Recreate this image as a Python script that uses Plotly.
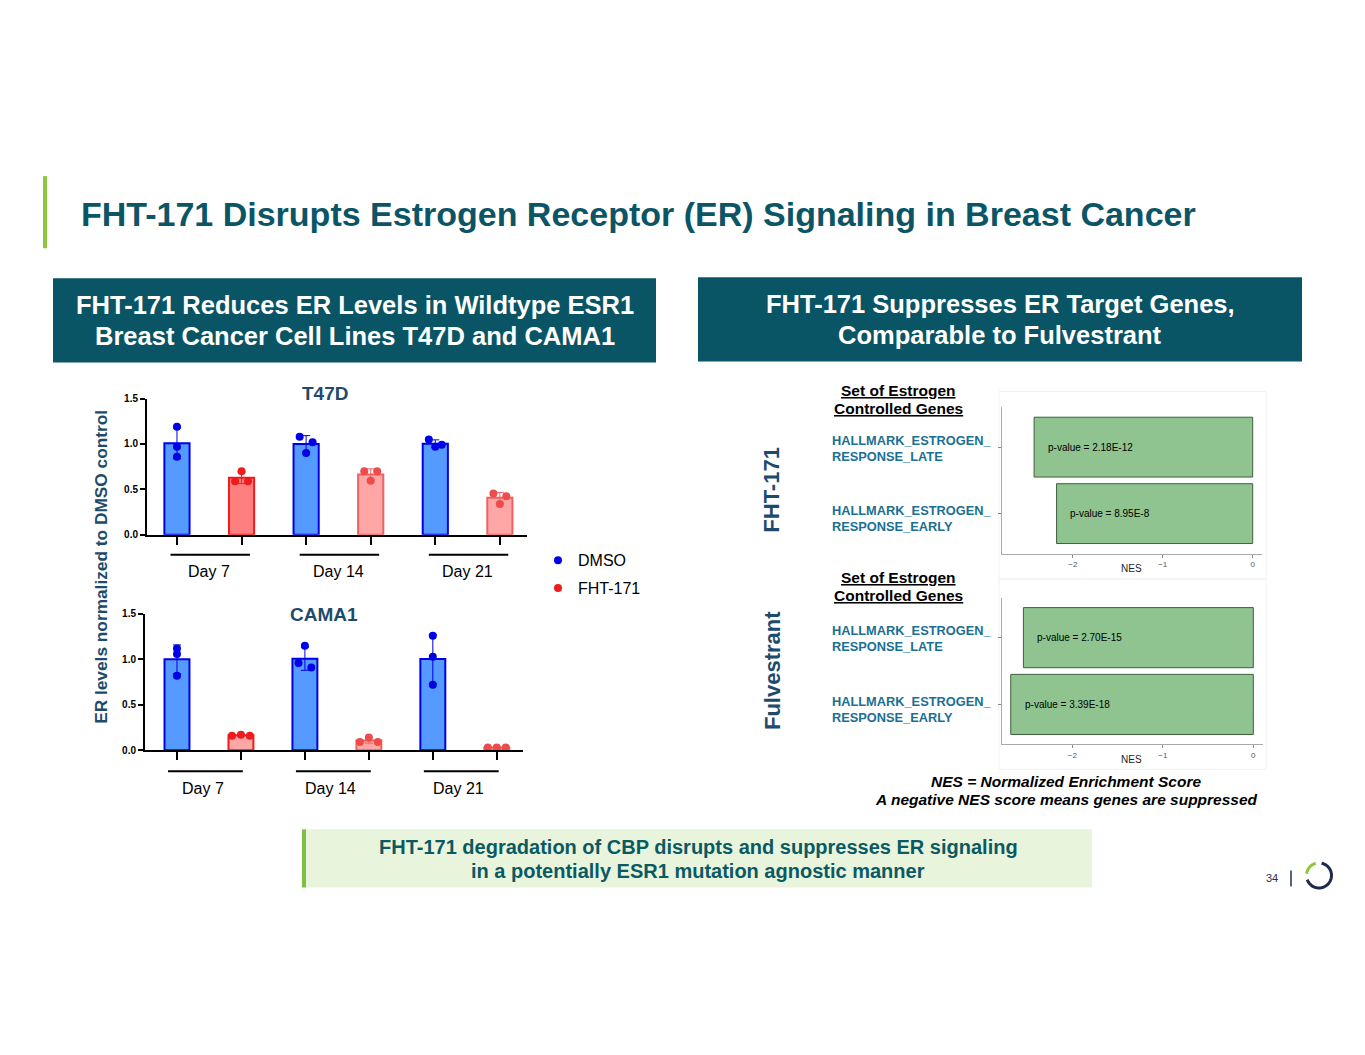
import numpy as np
import plotly.graph_objects as go

W, H = 1365, 1055
FONT = "Liberation Sans, Arial, sans-serif"

# ---------------- data ----------------
DAYS = ["Day 7", "Day 14", "Day 21"]
T47D_DMSO = [[1.19, 0.97, 0.86], [1.08, 1.02, 0.90], [1.05, 0.99, 0.97]]
T47D_FHT = [[0.70, 0.59, 0.59], [0.70, 0.70, 0.595], [0.455, 0.425, 0.34]]
CAMA1_DMSO = [[1.12, 1.06, 0.82], [1.15, 0.96, 0.91], [1.26, 1.03, 0.72]]
CAMA1_FHT = [[0.16, 0.17, 0.16], [0.14, 0.09, 0.09], [0.03, 0.03, 0.03]]

GENE_SETS = ["HALLMARK_ESTROGEN_RESPONSE_EARLY", "HALLMARK_ESTROGEN_RESPONSE_LATE"]
NES_FHT = [-2.18, -2.43]
NES_FULV = [-2.68, -2.54]
PVAL_FHT = ["p-value = 8.95E-8", "p-value = 2.18E-12"]
PVAL_FULV = ["p-value = 3.39E-18", "p-value = 2.70E-15"]

# ---------------- styles ----------------
BLUE_FILL, BLUE_LINE = "#559aff", "#0000e6"
RED_FILL_D, RED_LINE_D, RED_PT_D = "#ff7f7f", "#ee1c1c", "#ee1c1c"
RED_FILL_L, RED_LINE_L, RED_PT_L = "#ffa6a6", "#f06262", "#ee4b4b"
TEAL = "#0b5566"
NAVY_T = "#1d4b6c"

JIT_T_D = [[0, 0, 0], [-0.1, 0.1, 0], [-0.1, 0.1, 0]]
JIT_T_F = [[0, -0.1, 0.1], [-0.1, 0.1, 0], [-0.1, 0.1, 0]]
JIT_C_D = [[0, 0, 0], [0, -0.1, 0.1], [0, 0, 0]]
JIT_C_F = [[-0.14, 0, 0.14], [0, -0.14, 0.14], [-0.14, 0, 0.14]]


def px(x):
    return (x - 8) / W


def py(y):
    yr = (y - 14.2) / 0.9877
    return 1 - yr / H


fig = go.Figure()

panels = [
    ("x", "y", T47D_DMSO, T47D_FHT, JIT_T_D, JIT_T_F,
     [RED_FILL_D, RED_FILL_L, RED_FILL_L], [RED_LINE_D, RED_LINE_L, RED_LINE_L],
     [RED_PT_D, RED_PT_L, RED_PT_L], True),
    ("x2", "y2", CAMA1_DMSO, CAMA1_FHT, JIT_C_D, JIT_C_F,
     [RED_FILL_L, RED_FILL_L, RED_FILL_L], [RED_LINE_D, RED_LINE_L, RED_LINE_L],
     [RED_PT_D, RED_PT_L, RED_PT_L], False),
]

for xa, ya, dm, fh, jd, jf, rfill, rline, rpt, leg in panels:
    for i in range(3):
        for grp, pts, jit, fill, line, ptc, name in [
            ("d", dm[i], jd[i], BLUE_FILL, BLUE_LINE, BLUE_LINE, "DMSO"),
            ("f", fh[i], jf[i], rfill[i], rline[i], rpt[i], "FHT-171"),
        ]:
            pos = 2 * i + (0 if grp == "d" else 1)
            arr = np.array(pts)
            mean = float(arr.mean())
            sd = float(arr.std(ddof=1))
            fig.add_trace(go.Bar(
                x=[pos], y=[mean], width=0.39, xaxis=xa, yaxis=ya,
                marker=dict(color=fill, line=dict(color=line, width=2)),
                error_y=dict(type="data", array=[sd], visible=True,
                             color=line, thickness=1, width=4),
                showlegend=False, hoverinfo="skip"))
            fig.add_trace(go.Scatter(
                x=[pos + j for j in jit], y=pts, mode="markers", xaxis=xa, yaxis=ya,
                marker=dict(color=ptc, size=8),
                name=name, showlegend=(leg and i == 0), legendgroup=name))

# NES bars
for xa, ya, vals in [("x3", "y3", NES_FHT), ("x4", "y4", NES_FULV)]:
    fig.add_trace(go.Bar(
        x=vals, y=GENE_SETS, orientation="h", width=0.9, xaxis=xa, yaxis=ya,
        marker=dict(color="#8fc38f", line=dict(color="#3f5f3f", width=1)),
        showlegend=False, hoverinfo="skip"))

# ---------------- axes ----------------
bar_x = dict(tickvals=[0, 1, 2, 3, 4, 5], ticktext=[""] * 6, ticks="outside",
             ticklen=8, tickwidth=2, tickcolor="black", showline=True,
             linewidth=2, linecolor="black", showgrid=False, zeroline=False)
bar_y = dict(range=[0, 1.5], tickvals=[0, 0.5, 1.0, 1.5], tickformat=".1f",
             ticks="outside", ticklen=5, tickwidth=2, tickcolor="black",
             showline=True, linewidth=2, linecolor="black", showgrid=False,
             zeroline=False, tickfont=dict(family=FONT, size=10, color="black", weight="bold"))
nes_x = dict(tickvals=[-2, -1, 0], ticktext=["\u22122", "\u22121", "0"], ticks="outside",
             ticklen=3, tickcolor="#888", showline=True, linewidth=1, linecolor="#aaa",
             showgrid=False, zeroline=False, tickfont=dict(family=FONT, size=8, color="#555"))
nes_y = dict(categoryorder="array", categoryarray=GENE_SETS, range=[-0.6, 1.6],
             showticklabels=False, ticks="outside", ticklen=3, tickcolor="#888",
             showline=True, linewidth=1, linecolor="#aaa", showgrid=False, zeroline=False)

fig.update_layout(
    xaxis=dict(bar_x, domain=[px(147), px(527)], range=[-0.464, 5.42], anchor="y"),
    yaxis=dict(bar_y, domain=[py(534), py(398)], anchor="x"),
    xaxis2=dict(bar_x, domain=[px(145), px(523)], range=[-0.5, 5.41], anchor="y2"),
    yaxis2=dict(bar_y, domain=[py(749), py(613)], anchor="x2"),
    xaxis3=dict(nes_x, domain=[px(1001.7), px(1261.7)], range=[-2.79, 0.1], anchor="y3"),
    yaxis3=dict(nes_y, domain=[py(552.7), py(406.7)], anchor="x3"),
    xaxis4=dict(nes_x, domain=[px(1001.7), px(1263)], range=[-2.78, 0.107], anchor="y4"),
    yaxis4=dict(nes_y, domain=[py(743.3), py(596.7)], anchor="x4"),
)

# ---------------- shapes & annotations ----------------
shapes = []
ann = []


def rect(x0, y0, x1, y1, color, line=None):
    shapes.append(dict(type="rect", xref="paper", yref="paper",
                       x0=px(x0), x1=px(x1), y0=py(y1), y1=py(y0),
                       fillcolor=color, line=dict(width=0) if line is None else line,
                       layer="below"))


def text(x, y, t, size, color="black", bold=False, italic=False, xanchor="center",
         align="center", angle=0):
    ann.append(dict(x=px(x), y=py(y), xref="paper", yref="paper", text=t,
                    showarrow=False, xanchor=xanchor, yanchor="middle", align=align,
                    textangle=angle,
                    font=dict(family=FONT, size=size, color=color,
                              weight="bold" if bold else "normal",
                              style="italic" if italic else "normal")))


def lines(x, ys, ts, size, color="black", bold=False, italic=False, xanchor="center"):
    for y, t in zip(ys, ts):
        text(x, y, t, size, color, bold, italic, xanchor, align=xanchor if xanchor != "center" else "center")


# title
rect(43, 176, 47, 248, "#8dc63f")
text(79, 214, "FHT-171 Disrupts Estrogen Receptor (ER) Signaling in Breast Cancer",
     34, TEAL, bold=True, xanchor="left")

# header boxes
rect(53, 278, 656, 362, "#0a5565")
lines(354.5, [305, 336], ["FHT-171 Reduces ER Levels in Wildtype ESR1",
                          "Breast Cancer Cell Lines T47D and CAMA1"], 25.5, "white", bold=True)
rect(698, 277, 1302, 361, "#0a5565")
lines(1000, [304, 335], ["FHT-171 Suppresses ER Target Genes,",
                         "Comparable to Fulvestrant"], 25.5, "white", bold=True)

# bar panel titles
text(325, 393, "T47D", 19, NAVY_T, bold=True)
text(324, 614, "CAMA1", 19, NAVY_T, bold=True)
text(101, 566, "ER levels normalized to DMSO control", 17.3, NAVY_T, bold=True, angle=-90)

# day brackets + labels
for xa, line_ext, lab_off, yline, ylab in [("x", (-0.1, 1.13), 0.0, 554, 571),
                                         ("x2", (-0.14, 1.03), -0.1, 770, 787)]:
    for i, d in enumerate(DAYS):
        shapes.append(dict(type="line", xref=xa, yref="paper",
                           x0=2 * i + line_ext[0], x1=2 * i + line_ext[1],
                           y0=py(yline), y1=py(yline), line=dict(color="black", width=2)))
        ann.append(dict(x=2 * i + 0.5 + lab_off, y=py(ylab), xref=xa, yref="paper", text=d,
                        showarrow=False, xanchor="center", yanchor="middle",
                        font=dict(family=FONT, size=16, color="black")))

# NES panel texts
for yh, yl, ye in [(390, 440, 510), (577, 630, 700)]:
    lines(898, [yh, yh + 18], ["<u>Set of Estrogen</u>", "<u>Controlled Genes</u>"], 15.5,
          "black", bold=True)
    lines(830, [yl, yl + 16], ["HALLMARK_ESTROGEN_", "RESPONSE_LATE"], 12.8, "#1b6f93",
          bold=True, xanchor="left")
    lines(830, [ye, ye + 16], ["HALLMARK_ESTROGEN_", "RESPONSE_EARLY"], 12.8, "#1b6f93",
          bold=True, xanchor="left")

for xa, ya, vals, pv in [("x3", "y3", NES_FHT, PVAL_FHT), ("x4", "y4", NES_FULV, PVAL_FULV)]:
    for v, p, g in zip(vals, pv, GENE_SETS):
        ann.append(dict(x=v + 0.13, y=g, xref=xa, yref=ya, text=p, showarrow=False,
                        xanchor="left", yanchor="middle",
                        font=dict(family=FONT, size=10, color="#000")))

text(1131, 568, "NES", 10, "#222")
text(1131, 758, "NES", 10, "#222")

# faint frames around the NES images
for y0, y1 in [(391, 578), (578, 768)]:
    shapes.append(dict(type="rect", xref="paper", yref="paper", x0=px(999), x1=px(1266),
                       y0=py(y1), y1=py(y0), line=dict(color="#f2f2f2", width=1),
                       layer="below"))

text(772, 489, "FHT-171", 22, NAVY_T, bold=True, angle=-90)
text(772, 670, "Fulvestrant", 22, NAVY_T, bold=True, angle=-90)

lines(1066, [780, 798], ["NES = Normalized Enrichment Score",
                         "A negative NES score means genes are suppressed"], 15.5,
      "black", bold=True, italic=True)

# bottom box
rect(302, 828, 1092, 886, "#e9f4dc")
rect(302, 828, 306, 886, "#7cc142")
lines(698, [846, 870], ["FHT-171 degradation of CBP disrupts and suppresses ER signaling",
                        "in a potentially ESR1 mutation agnostic manner"], 20, "#0b5a63", bold=True)

# page number & logo
text(1272, 877, "34", 11, "#1d3050")
shapes.append(dict(type="line", xref="paper", yref="paper", x0=px(1291), x1=px(1291),
                   y0=py(885), y1=py(869), line=dict(color="#1d3050", width=1.5)))


def arc_path(cx, cy, r, a0, a1, n=40):
    ang = np.radians(np.linspace(a0, a1, n))
    pts = [(px(cx + r * np.cos(a)), py(cy - r * np.sin(a))) for a in ang]
    return "M " + " L ".join(f"{x:.5f},{y:.5f}" for x, y in pts)


shapes.append(dict(type="path", xref="paper", yref="paper",
                   path=arc_path(1319, 874, 12.5, -160, 78), line=dict(color="#1e2b4d", width=3)))
shapes.append(dict(type="path", xref="paper", yref="paper",
                   path=arc_path(1319, 874, 12.5, 105, 172), line=dict(color="#8dc63f", width=3)))

fig.update_layout(
    width=W, height=H, margin=dict(l=0, r=0, t=0, b=0),
    paper_bgcolor="white", plot_bgcolor="white",
    barmode="overlay", shapes=shapes, annotations=ann,
    font=dict(family=FONT),
    legend=dict(x=px(538), y=py(542.5), xanchor="left", yanchor="top",
                font=dict(family=FONT, size=16, color="black"),
                bgcolor="rgba(0,0,0,0)", tracegroupgap=4),
)

fig.write_html("out.html")
